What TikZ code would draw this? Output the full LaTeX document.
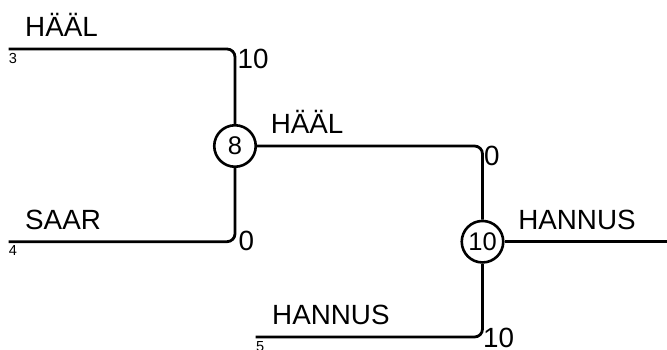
\documentclass[tikz,border=0pt]{standalone}
\usepackage{fontspec}
\setmainfont{Liberation Sans}
\usetikzlibrary{calc}
\tikzset{
    bracket/.style={line width=2.8bp, rounded corners=8bp},
    match/.style={circle, draw, line width=2.6bp, minimum size=41.5bp,
        inner sep=0pt, font=\fontsize{25.6}{27}\selectfont},
    player/.style={anchor=base west, inner sep=0pt,
        font=\fontsize{27.9}{30}\selectfont},
    seednum/.style={anchor=base west, inner sep=0pt,
        font=\fontsize{14.6}{16}\selectfont},
}
\begin{document}
\begin{tikzpicture}[x=1bp, y=-1bp]
            \useasboundingbox (0,0) rectangle (667,349);
            \node[match] (m-8) at (235,146) {8};
            \node[match] (m-10) at (482.5,241.7) {10};
            \coordinate (out) at (667,241.7);
            \foreach[count=\i] \seed/\sx/\sy/\who in
                {3/8.5/49/HÄÄL,4/8.5/241.7/SAAR,5/255.5/337/HANNUS} {
                \coordinate (s-\seed) at (\sx,\sy);
                \node[player] (p-\seed) at ($(s-\seed)+(16.5,-12.3)$) {\who};
                \node[seednum] (n-\seed) at ($(s-\seed)+(0.3,14)$) {\seed};
            }
            \node[player] (p-8) at ($(m-8.east)+(13.5,-12.3)$) {HÄÄL};
            \node[player] (p-10) at ($(m-10.east)+(13.5,-12.3)$) {HANNUS};
            % scores at the corners
            \node[player] (r-3) at ($(m-8 |- s-3)+(2.5,19)$) {10};
            \node[player] (r-4) at ($(m-8 |- s-4)+(3.5,9)$) {0};
            \node[player] (r-8) at ($(m-10 |- m-8)+(1.5,19)$) {0};
            \node[player] (r-5) at ($(m-10 |- s-5)+(0.5,10.5)$) {10};
            \draw[bracket] (s-3) -| (m-8);
            \draw[bracket] (s-4) -| (m-8);
            \draw[bracket] (m-8) -| (m-10);
            \draw[bracket] (s-5) -| (m-10);
            \draw[bracket] (m-10) -- (out);
        \end{tikzpicture}
\end{document}
